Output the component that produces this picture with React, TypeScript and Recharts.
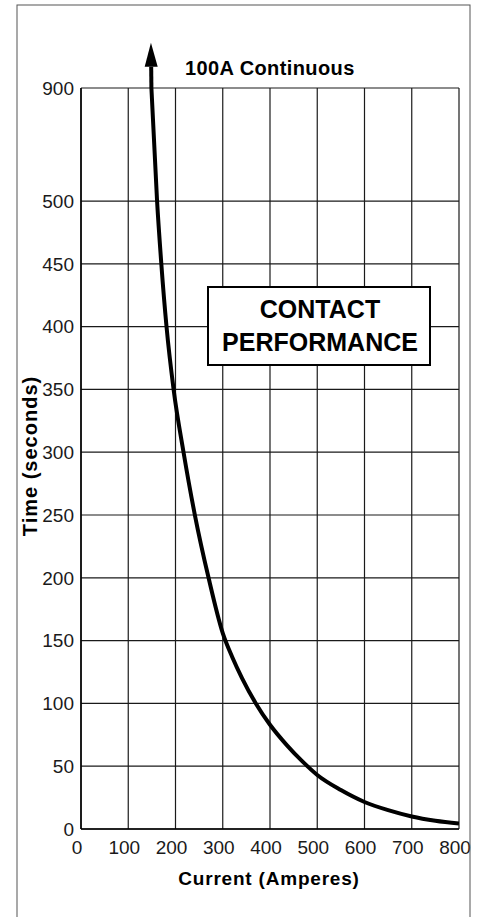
import { LineChart, Line, XAxis, YAxis, CartesianGrid, ReferenceLine } from "recharts";

// values
const currentAmps = [149, 161, 170, 181, 196, 217, 241, 270, 300, 320, 341, 370, 400, 435, 468, 500, 550, 600, 650, 700, 750, 800];
const timeSeconds = [900, 500, 450, 400, 350, 300, 250, 200, 156, 137, 120, 100, 83, 67, 54, 43, 31, 21.5, 15, 10, 6.6, 4.3];

const xTickValues = [0, 100, 200, 300, 400, 500, 600, 700, 800];
const yTickValues = [0, 50, 100, 150, 200, 250, 300, 350, 400, 450, 500, 900];

// the arrow keeps going past the top of the scale
const arrowAmps = [149, 148];
const arrowSeconds = [900, 1060];

const FONT = "'Liberation Sans', Arial, Helvetica, sans-serif";

// axis is broken above 500 s: 500..900 squeezed into less than two grid rows
const squeeze = (v: number) => (v <= 500 ? v : 500 + (v - 500) * 0.225);
const yTicksT = yTickValues.map(squeeze);

const chartData = currentAmps.map((a, i) => ({ amps: a, time: squeeze(timeSeconds[i]) }));

function ArrowShape(props: any) {
  const { x1, y1, x2, y2 } = props;
  const ang = Math.atan2(y2 - y1, x2 - x1);
  const len = 24;
  const half = 6.5;
  const bx = x2 - len * Math.cos(ang);
  const by = y2 - len * Math.sin(ang);
  const px = -Math.sin(ang) * half;
  const py = Math.cos(ang) * half;
  return (
    <g>
      <line x1={x1} y1={y1} x2={bx} y2={by} stroke="#000" strokeWidth={4} />
      <polygon points={`${x2},${y2} ${bx + px},${by + py} ${bx - px},${by - py}`} fill="#000" />
    </g>
  );
}

export default function App() {
  return (
    <div style={{ position: "absolute", left: 0, top: 0, width: 480, height: 917, background: "#fff", fontFamily: FONT, overflow: "hidden" }}>
      <LineChart width={480} height={917} data={chartData} margin={{ top: 88, right: 21, bottom: 58, left: 0 }}>
        <CartesianGrid stroke="#1a1a1a" strokeWidth={1.2} />
        <XAxis
          dataKey="amps"
          type="number"
          domain={[0, 800]}
          ticks={xTickValues}
          allowDataOverflow
          height={30}
          tickLine={false}
          tickSize={10}
          dx={-4}
          axisLine={{ stroke: "#000", strokeWidth: 1.5 }}
          tick={{ fontSize: 19, fill: "#1a1a1a", fontFamily: FONT }}
        />
        <YAxis
          type="number"
          domain={[0, squeeze(900)]}
          ticks={yTicksT}
          allowDataOverflow
          width={81}
          tickLine={false}
          tickSize={5}
          axisLine={{ stroke: "#000", strokeWidth: 1.5 }}
          tick={{ fontSize: 19, fill: "#1a1a1a", fontFamily: FONT }}
          tickFormatter={(v: number) => String(yTickValues[yTicksT.indexOf(v)] ?? v)}
        />
        <ReferenceLine
          segment={[
            { x: arrowAmps[0], y: squeeze(arrowSeconds[0]) },
            { x: arrowAmps[1], y: squeeze(arrowSeconds[1]) },
          ]}
          ifOverflow="visible"
          shape={ArrowShape}
        />
        <Line
          type="monotone"
          dataKey="time"
          stroke="#000"
          strokeWidth={4}
          dot={false}
          isAnimationActive={false}
        />
      </LineChart>
      <svg width={480} height={917} style={{ position: "absolute", left: 0, top: 0, pointerEvents: "none" }}>
        <rect x={17} y={5} width={453} height={940} fill="none" stroke="#555" strokeWidth={1} />
        <text x={185} y={75} fontSize={20} fontWeight="bold" fontFamily={FONT} letterSpacing={0.4} fill="#000">
          100A Continuous
        </text>
        <rect x={208} y={287} width={222} height={78} fill="#fff" stroke="#000" strokeWidth={2} />
        <text x={320} y={318} fontSize={25} fontWeight="bold" fontFamily={FONT} textAnchor="middle" fill="#000">
          CONTACT
        </text>
        <text x={320} y={351} fontSize={25} fontWeight="bold" fontFamily={FONT} textAnchor="middle" fill="#000">
          PERFORMANCE
        </text>
        <text x={269} y={885} fontSize={19} fontWeight="bold" fontFamily={FONT} textAnchor="middle" letterSpacing={0.8} fill="#000">
          Current (Amperes)
        </text>
        <text
          x={37}
          y={456}
          fontSize={20}
          fontWeight="bold"
          fontFamily={FONT}
          textAnchor="middle"
          letterSpacing={1}
          fill="#000"
          transform="rotate(-90, 37, 456)"
        >
          Time (seconds)
        </text>
      </svg>
    </div>
  );
}
